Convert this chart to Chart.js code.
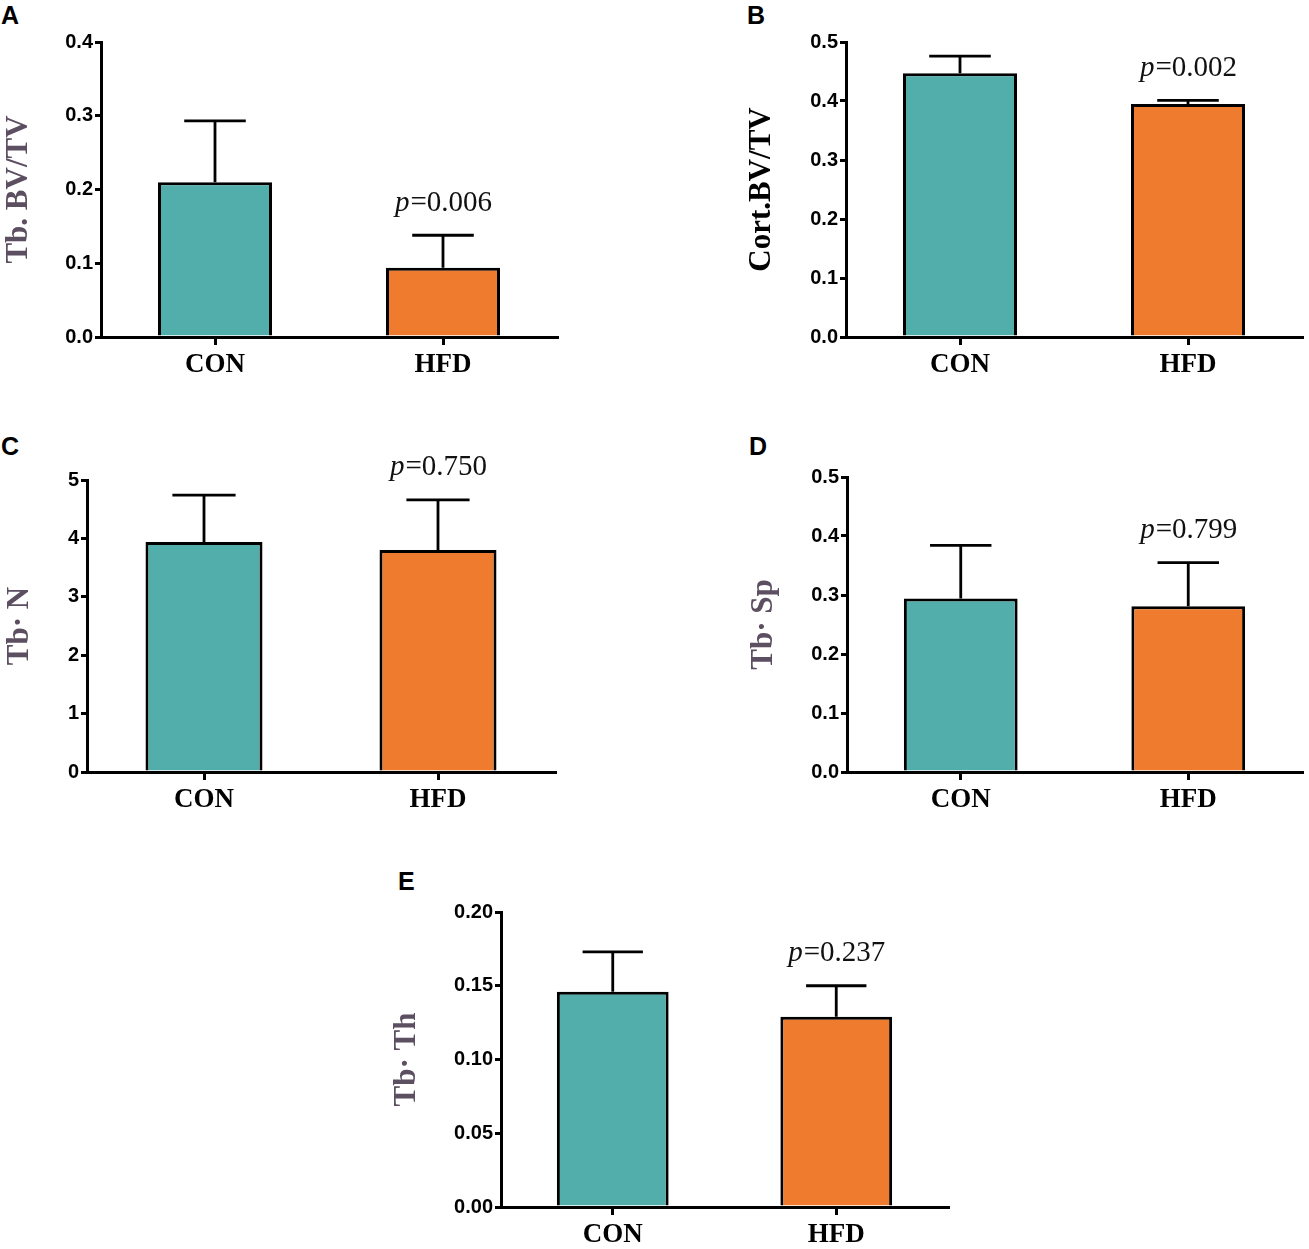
<!DOCTYPE html>
<html lang="en">
  <head>
    <meta charset="utf-8" />
    <title>Bone microstructure CON vs HFD</title>
    <style>
      body { margin: 0; background: #fff; }
      #page { position: relative; width: 1309px; height: 1249px; overflow: hidden; }
      canvas { position: absolute; }
      .letter {
        position: absolute;
        font: bold 25px 'Liberation Sans', Arial, sans-serif;
        color: #000;
      }
    </style>
  </head>
  <body>
    <div id="page"></div>
    <script src="https://cdn.jsdelivr.net/npm/chart.js@4.4.1/dist/chart.umd.min.js"></script>
    <script>
      // groups shared by every panel
      const groups = ['CON', 'HFD'];

      // A: Tb. BV/TV
      const tbBvTvMean = [0.21, 0.094];
      const tbBvTvSd = [0.083, 0.044];
      const tbBvTvP = '0.006';

      // B: Cort.BV/TV
      const cortBvTvMean = [0.447, 0.395];
      const cortBvTvSd = [0.029, 0.006];
      const cortBvTvP = '0.002';

      // C: Tb.N
      const tbNMean = [3.94, 3.8];
      const tbNSd = [0.8, 0.86];
      const tbNP = '0.750';

      // D: Tb.Sp
      const tbSpMean = [0.294, 0.281];
      const tbSpSd = [0.09, 0.074];
      const tbSpP = '0.799';

      // E: Tb.Th
      const tbThMean = [0.146, 0.129];
      const tbThSd = [0.027, 0.021];
      const tbThP = '0.237';

      const barColors = ['#52aeab', '#ef7b2e'];
      const titleGrey = '#5c4f61';

      // error bars (mean + sd, upper only)
      const errorBarPlugin = {
        id: 'errorBars',
        afterDatasetsDraw(chart, args, opts) {
          const { ctx } = chart;
          const yScale = chart.scales.y;
          const meta = chart.getDatasetMeta(0);
          ctx.save();
          ctx.strokeStyle = '#000';
          ctx.lineWidth = 2.8;
          meta.data.forEach((bar, i) => {
            const mean = chart.data.datasets[0].data[i];
            const top = yScale.getPixelForValue(mean + opts.sd[i]);
            const base = yScale.getPixelForValue(mean);
            const half = bar.width * 0.27;
            ctx.beginPath();
            ctx.moveTo(bar.x, base);
            ctx.lineTo(bar.x, top);
            ctx.moveTo(bar.x - half, top);
            ctx.lineTo(bar.x + half, top);
            ctx.stroke();
          });
          ctx.restore();
        },
      };

      // p value above the HFD bar
      const pValuePlugin = {
        id: 'pValue',
        afterDraw(chart, args, opts) {
          const { ctx } = chart;
          const yScale = chart.scales.y;
          const bar = chart.getDatasetMeta(0).data[1];
          const mean = chart.data.datasets[0].data[1];
          const capY = yScale.getPixelForValue(mean + opts.sd[1]);
          const y = capY - 32;
          ctx.save();
          ctx.textBaseline = 'middle';
          ctx.fillStyle = '#111';
          const italic = "italic 29px 'Liberation Serif', 'Times New Roman', serif";
          const plain = "29px 'Liberation Serif', 'Times New Roman', serif";
          ctx.font = italic;
          const wP = ctx.measureText('p').width;
          ctx.font = plain;
          const rest = '=' + opts.text;
          const wR = ctx.measureText(rest).width;
          let x = bar.x - (wP + wR) / 2;
          ctx.font = italic;
          ctx.fillText('p', x, y);
          ctx.font = plain;
          ctx.fillText(rest, x + wP + 1, y);
          ctx.restore();
        },
      };

      const panels = [
        {
          letter: 'A', letterAt: [1, 1],
          box: [0, 20, 572, 382], area: [101, 42, 557, 337],
          title: 'Tb. BV/TV', titleColor: titleGrey,
          mean: tbBvTvMean, sd: tbBvTvSd, p: tbBvTvP,
          max: 0.4, step: 0.1, dec: 1,
        },
        {
          letter: 'B', letterAt: [747, 1],
          box: [743, 20, 566, 382], area: [846, 42, 1302, 337],
          title: 'Cort.BV/TV', titleColor: '#000',
          mean: cortBvTvMean, sd: cortBvTvSd, p: cortBvTvP,
          max: 0.5, step: 0.1, dec: 1,
        },
        {
          letter: 'C', letterAt: [1, 432],
          box: [1, 455, 570, 362], area: [87, 480, 555, 772],
          title: 'Tb· N', titleColor: titleGrey,
          mean: tbNMean, sd: tbNSd, p: tbNP,
          max: 5, step: 1, dec: 0,
        },
        {
          letter: 'D', letterAt: [749, 432],
          box: [745, 455, 564, 362], area: [847, 477, 1302, 772],
          title: 'Tb· Sp', titleColor: titleGrey,
          mean: tbSpMean, sd: tbSpSd, p: tbSpP,
          max: 0.5, step: 0.1, dec: 1,
        },
        {
          letter: 'E', letterAt: [398, 867],
          box: [388, 890, 575, 359], area: [501, 912, 948, 1207],
          title: 'Tb· Th', titleColor: titleGrey,
          mean: tbThMean, sd: tbThSd, p: tbThP,
          max: 0.2, step: 0.05, dec: 2,
        },
      ];

      const page = document.getElementById('page');

      panels.forEach((pn) => {
        const [left, top, width, height] = pn.box;
        const [ax0, ay0, ax1, ay1] = pn.area;

        const label = document.createElement('div');
        label.className = 'letter';
        label.textContent = pn.letter;
        label.style.left = pn.letterAt[0] + 'px';
        label.style.top = pn.letterAt[1] + 'px';
        page.appendChild(label);

        const canvas = document.createElement('canvas');
        canvas.style.left = left + 'px';
        canvas.style.top = top + 'px';
        canvas.style.width = width + 'px';
        canvas.style.height = height + 'px';
        canvas.width = width;
        canvas.height = height;
        page.appendChild(canvas);

        new Chart(canvas, {
          type: 'bar',
          data: {
            labels: groups,
            datasets: [
              {
                data: pn.mean,
                backgroundColor: barColors,
                borderColor: '#000',
                borderWidth: 3,
                borderSkipped: 'bottom',
                categoryPercentage: 1,
                barPercentage: 0.5,
              },
            ],
          },
          options: {
            responsive: false,
            animation: false,
            events: [],
            layout: {
              padding: { top: ay0 - top, right: left + width - ax1, left: 0, bottom: 0 },
            },
            plugins: {
              legend: { display: false },
              tooltip: { enabled: false },
              errorBars: { sd: pn.sd },
              pValue: { sd: pn.sd, text: pn.p },
            },
            scales: {
              x: {
                afterFit: (s) => { s.height = top + height - ay1; },
                grid: {
                  offset: false,
                  drawOnChartArea: false,
                  tickLength: 8,
                  color: '#000',
                  lineWidth: 3,
                },
                border: { color: '#000', width: 3 },
                ticks: {
                  color: '#000',
                  padding: 4,
                  font: { family: "'Liberation Serif', 'Times New Roman', serif", size: 27, weight: 'bold' },
                },
              },
              y: {
                min: 0,
                max: pn.max,
                afterFit: (s) => { s.width = ax0 - left; },
                grid: {
                  drawOnChartArea: false,
                  tickLength: 6,
                  color: '#000',
                  lineWidth: 3,
                },
                border: { color: '#000', width: 3 },
                ticks: {
                  stepSize: pn.step,
                  color: '#000',
                  padding: 2,
                  font: { family: "'Liberation Sans', Arial, sans-serif", size: 20, weight: 'bold' },
                  callback: (v) => Number(v).toFixed(pn.dec),
                },
                title: {
                  display: true,
                  text: pn.title,
                  color: pn.titleColor,
                  padding: 0,
                  font: { family: "'Liberation Serif', 'Times New Roman', serif", size: 31, weight: 'bold' },
                },
              },
            },
          },
          plugins: [errorBarPlugin, pValuePlugin],
        });
      });
    </script>
  </body>
</html>
